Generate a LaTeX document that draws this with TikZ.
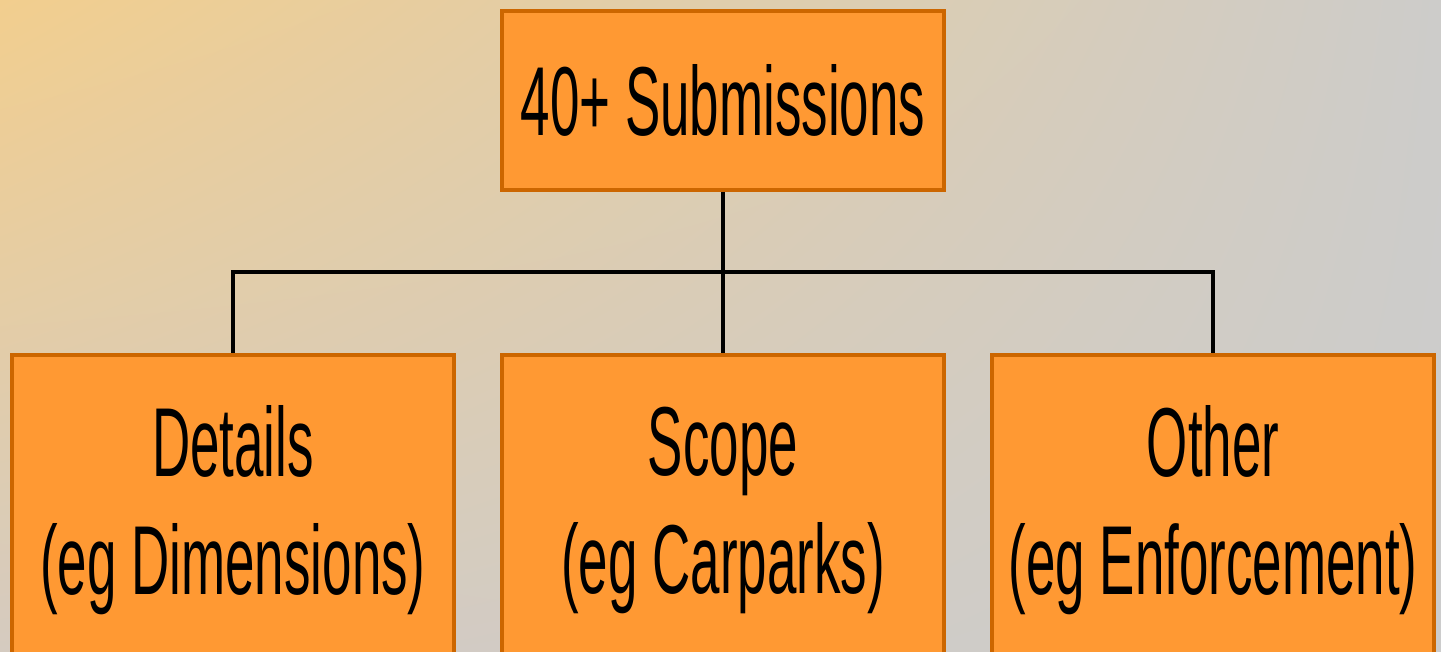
\documentclass[tikz,border=0pt]{standalone}
\usepackage{fontspec}
\newfontfamily\narrowsans[FakeStretch=0.54]{Liberation Sans}
\definecolor{boxfill}{HTML}{FF9933}
\definecolor{boxline}{HTML}{CC6600}
\definecolor{bgUL}{HTML}{F2CE8E}
\definecolor{bgUR}{HTML}{CDCCCA}
\definecolor{bgLL}{HTML}{D5CBC0}
\definecolor{bgLR}{HTML}{CCCCCC}
\usetikzlibrary{positioning,shadings}

\begin{document}
\begin{tikzpicture}
  [x=0.5pt,y=-0.5pt,
   box/.style={rectangle,fill=boxfill,draw=boxline,line width=2pt,
     minimum width=221pt,align=center,inner sep=0pt,
     font=\narrowsans\fontsize{49}{59}\selectfont},
   link/.style={line width=2pt}]
  \useasboundingbox (0,0) rectangle (1441,652);
  \clip (0,0) rectangle (1441,652);
  \shade[upper left=bgUL,upper right=bgUR,lower left=bgLL,lower right=bgLR]
    (0,0) rectangle (1441,652);

  \node[box,minimum height=89.5pt] (sub) at (723,100.5) {40+ Submissions};
  \node[box,minimum height=155pt] (det) at (233,510) {Details\\(eg Dimensions)};
  \node[box,minimum height=155pt] (sco) at (723,510) {Scope\\(eg Carparks)};
  \node[box,minimum height=155pt] (oth) at (1213,510) {Other\\(eg Enforcement)};
  \coordinate (bar) at (723,272);

\draw[link] (sub) -- (bar);
\foreach \to in {det,sco,oth}
    \draw[link] (bar) -| (\to);

\end{tikzpicture}
\end{document}
